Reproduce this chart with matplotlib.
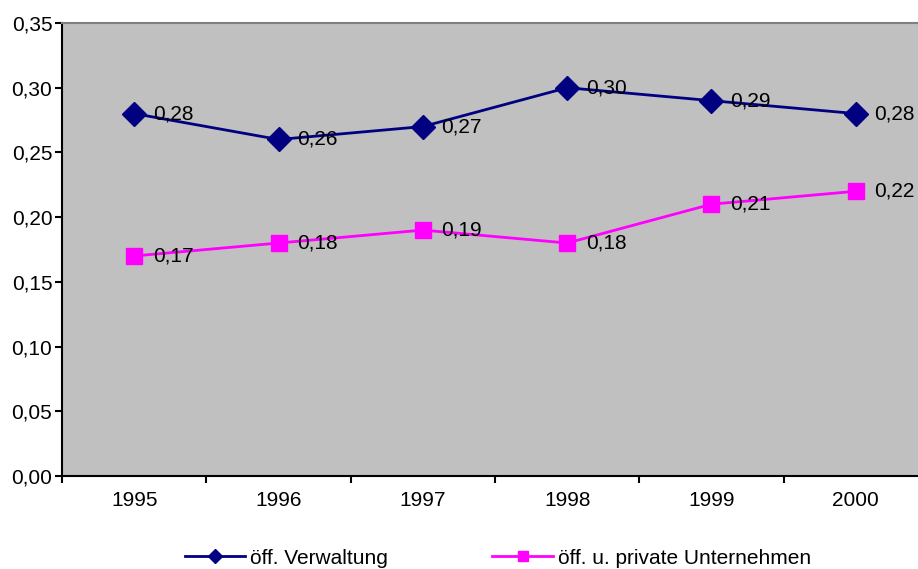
import numpy as np
import matplotlib
matplotlib.use("Agg")
import matplotlib.pyplot as plt
from matplotlib.ticker import FuncFormatter

plt.rcParams['font.family'] = ['Liberation Sans', 'DejaVu Sans']

# Daten
jahre = ["1995", "1996", "1997", "1998", "1999", "2000"]
verwaltung = [0.28, 0.26, 0.27, 0.30, 0.29, 0.28]
unternehmen = [0.17, 0.18, 0.19, 0.18, 0.21, 0.22]
serien = ["öff. Verwaltung", "öff. u. private Unternehmen"]

FS = 15
NAVY = "#000080"
MAGENTA = "#FF00FF"

fig = plt.figure(figsize=(9.18, 5.69), dpi=100)
ax = fig.add_axes([62/918, 93/569, 866/918, 453/569])
ax.set_facecolor("#C0C0C0")

x = np.arange(len(jahre))
ax.plot(x, verwaltung, color=NAVY, lw=2, marker="D", ms=12,
        mfc=NAVY, mec=NAVY, label=serien[0], clip_on=False, zorder=5)
ax.plot(x, unternehmen, color=MAGENTA, lw=2, marker="s", ms=11.5,
        mfc=MAGENTA, mec=MAGENTA, label=serien[1], clip_on=False, zorder=5)

# Datenbeschriftungen
for xs, ys in [(x, verwaltung), (x, unternehmen)]:
    for xi, yi in zip(xs, ys):
        ax.annotate(f"{yi:.2f}".replace(".", ","), (xi, yi),
                    xytext=(13.5, 0), textcoords="offset points",
                    ha="left", va="center", fontsize=FS, zorder=6,
                    annotation_clip=False)

ax.set_xlim(-0.5, len(jahre) - 0.5)
ax.set_ylim(0, 0.35)
ax.set_yticks(np.arange(0, 0.351, 0.05))
ax.yaxis.set_major_formatter(FuncFormatter(lambda v, p: f"{v:.2f}".replace(".", ",")))

ax.set_xticks(np.arange(-0.5, len(jahre)), labels=[])
ax.set_xticks(x, labels=jahre, minor=True)
ax.tick_params(axis="x", which="major", direction="out", length=5, width=1.5, color="black")
ax.tick_params(axis="x", which="minor", length=0, pad=11, labelsize=FS)
ax.tick_params(axis="y", direction="out", length=5, width=1.5, pad=2, labelsize=FS)

for s in ["left", "bottom"]:
    ax.spines[s].set_color("black")
    ax.spines[s].set_linewidth(1.5)
ax.spines["top"].set_color("#808080")
ax.spines["top"].set_linewidth(1.5)
ax.spines["right"].set_visible(False)

fig.legend(loc="center", bbox_to_anchor=(498/918, 11/569), ncol=2,
           frameon=False, fontsize=FS, handlelength=2.9, handletextpad=0.25,
           columnspacing=5.0, markerscale=0.6)

plt.savefig("out.png", dpi=100)
plt.close()
